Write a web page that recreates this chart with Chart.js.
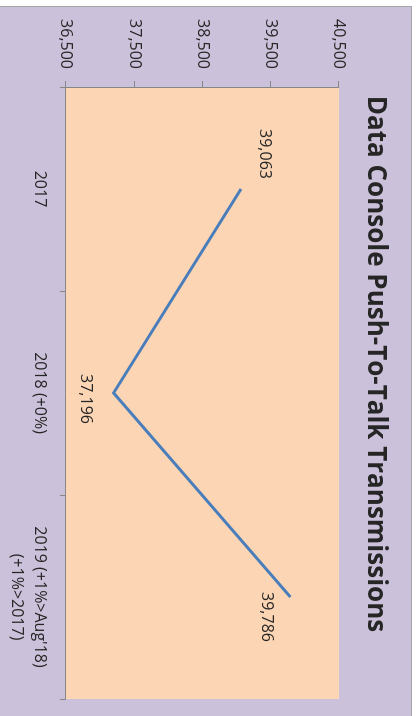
<!DOCTYPE html>
<html>
<head>
<meta charset="utf-8">
<title>Data Console Push-To-Talk Transmissions</title>
<script src="https://cdn.jsdelivr.net/npm/chart.js@4"></script>
<style>
  html, body { margin: 0; padding: 0; background: #ffffff; overflow: hidden; }
  /* chart box is laid out landscape and turned a quarter turn clockwise */
  #box {
    position: absolute; left: 0; top: 0;
    width: 716px; height: 414px;
    box-sizing: border-box;
    border: 1px solid #a5a5a5;
    background: #ccc1da;
    transform-origin: 0 0;
    transform: translate(412px, 6px) rotate(90deg);
  }
  #chart { display: block; }
</style>
</head>
<body>
<div id="box"><canvas id="chart" width="714" height="412"></canvas></div>
<script>
// Dane wykresu
const years = ["2017", "2018 (+0%)", ["2019 (+1%>Aug'18)", "(+1%>2017)"]];
const transmissions = [39063, 37196, 39786];
const axisMin = 36500;
const axisMax = 40500;
const axisStep = 1000;

// przesunięcia etykiet wartości względem punktów (px)
const labelOffsets = [[-35, -24], [6, 28], [20, 24]];

const textFont = "'Open Sans', sans-serif";
const textColor = "#262626";

// tło obszaru wykresu
const plotBackground = {
  id: "plotBackground",
  beforeDraw(chart) {
    const { ctx, chartArea: a } = chart;
    ctx.save();
    ctx.fillStyle = "#fcd5b5";
    ctx.fillRect(a.left, a.top, a.right - a.left, a.bottom - a.top);
    ctx.restore();
  }
};

// etykiety z wartościami przy punktach
const valueLabels = {
  id: "valueLabels",
  afterDatasetsDraw(chart) {
    const { ctx } = chart;
    const meta = chart.getDatasetMeta(0);
    ctx.save();
    ctx.font = "16px " + textFont;
    ctx.fillStyle = textColor;
    ctx.textAlign = "center";
    ctx.textBaseline = "middle";
    meta.data.forEach((pt, i) => {
      const v = chart.data.datasets[0].data[i];
      const [dx, dy] = labelOffsets[i];
      ctx.fillText(v.toLocaleString("en-US"), pt.x + dx, pt.y + dy);
    });
    ctx.restore();
  }
};

new Chart(document.getElementById("chart"), {
  type: "line",
  data: {
    labels: years,
    datasets: [{
      data: transmissions,
      borderColor: "#4a7ebb",
      borderWidth: 3,
      pointRadius: 0,
      pointHoverRadius: 0,
      tension: 0,
      fill: false
    }]
  },
  options: {
    responsive: false,
    animation: false,
    devicePixelRatio: 1,
    layout: { padding: 0 },
    plugins: {
      legend: { display: false },
      tooltip: { enabled: false },
      title: {
        display: true,
        text: "Data Console Push-To-Talk Transmissions",
        color: "#262626",
        font: { family: "'Open Sans', sans-serif", size: 26, weight: "bold", lineHeight: 1.2 },
        padding: { top: 20, bottom: 20.8 }
      }
    },
    scales: {
      x: {
        type: "category",
        offset: true,
        afterFit(scale) { scale.height = 67; },
        grid: {
          offset: true,
          drawOnChartArea: false,
          drawTicks: true,
          tickLength: 6,
          color: "#868686"
        },
        border: { display: true, color: "#868686", width: 1 },
        ticks: {
          color: textColor,
          padding: 9,
          maxRotation: 0,
          autoSkip: false,
          font: { family: textFont, size: 16, lineHeight: 1.44 }
        }
      },
      y: {
        min: axisMin,
        max: axisMax,
        afterFit(scale) { scale.width = 80; },
        grid: {
          drawOnChartArea: false,
          drawTicks: true,
          tickLength: 6,
          color: "#868686"
        },
        border: { display: true, color: "#868686", width: 1 },
        ticks: {
          stepSize: axisStep,
          color: textColor,
          padding: 12,
          font: { family: textFont, size: 16 },
          callback: v => v.toLocaleString("en-US")
        }
      },
      // pusty margines po prawej stronie obszaru wykresu (tytuł zostaje na środku)
      spacer: {
        type: "linear",
        position: "right",
        afterFit(scale) { scale.width = 22; },
        grid: { display: false },
        border: { display: false },
        ticks: { display: false }
      }
    }
  },
  plugins: [plotBackground, valueLabels]
});
</script>
</body>
</html>
